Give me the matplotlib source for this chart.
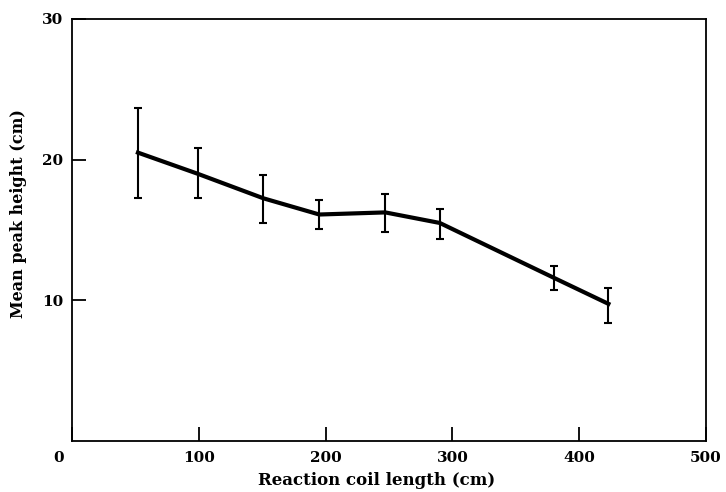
import matplotlib
matplotlib.use("Agg")
import matplotlib.pyplot as plt
import numpy as np

# values
coil_len = [52, 99, 151, 195, 247, 290, 380, 423]
peak_mean = [20.5, 19.0, 17.25, 16.1, 16.25, 15.5, 11.6, 9.75]
peak_hi = [23.7, 20.8, 18.9, 17.1, 17.55, 16.5, 12.45, 10.9]
peak_lo = [17.3, 17.25, 15.5, 15.1, 14.85, 14.35, 10.75, 8.4]

x_ticks = [0, 100, 200, 300, 400, 500]
y_ticks = [10, 20, 30]

plt.rcParams['font.family'] = ['DejaVu Serif']
plt.rcParams['font.weight'] = 'bold'

fig = plt.figure(figsize=(7.26, 4.92), dpi=100)
ax = fig.add_axes([0.0992, 0.1037, 0.8733, 0.8577])

m = np.array(peak_mean)
yerr = [m - np.array(peak_lo), np.array(peak_hi) - m]
ax.errorbar(coil_len, peak_mean, yerr=yerr, color='black', linewidth=3,
            elinewidth=1.5, capsize=3, capthick=1.5)

ax.set_xlim(0, 500)
ax.set_ylim(0, 30)
ax.set_xticks(x_ticks)
ax.set_xticklabels([''] + [str(t) for t in x_ticks[1:]])
ax.set_yticks(y_ticks)
ax.tick_params(direction='in', length=10, width=1.3, labelsize=11)
ax.tick_params(axis='x', pad=7)
ax.tick_params(axis='y', pad=6.5)
for s in ax.spines.values():
    s.set_linewidth(1.3)

# origin label sits left of the corner
ax.annotate('0', xy=(0, 0), xycoords='data', xytext=(-10, -7),
            textcoords='offset points', ha='center', va='top',
            fontsize=11, fontweight='bold')

ax.set_xlabel('Reaction coil length (cm)', fontsize=12, fontweight='bold')
ax.set_ylabel('Mean peak height (cm)', fontsize=11.5, fontweight='bold')
ax.xaxis.set_label_coords(0.48, -0.073)
ax.yaxis.set_label_coords(-0.071, 0.538)

fig.savefig('out.png', dpi=100)
